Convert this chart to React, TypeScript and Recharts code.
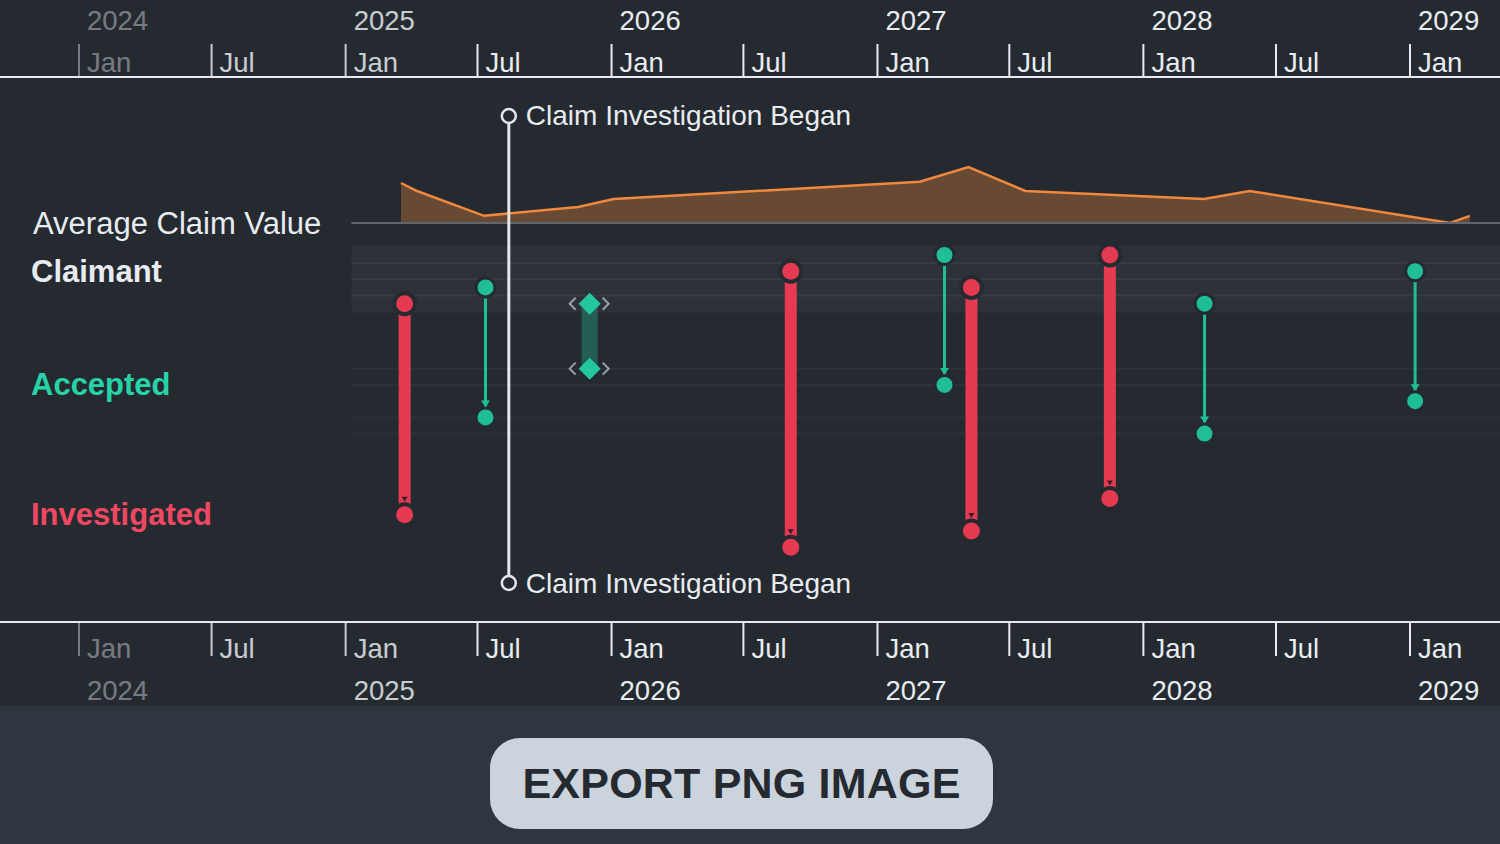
import React from "react";
import {
  ComposedChart,
  Area,
  Scatter,
  XAxis,
  YAxis,
  ReferenceLine,
  ReferenceArea,
} from "recharts";

const ts = (d: string) => Date.parse(d.length === 10 ? d + "T00:00:00Z" : d);

// visible time window and start of the data region
const DOMAIN_START = ts("2023-09-14T14:00:00Z");
const DOMAIN_END = ts("2029-05-04T12:00:00Z");
const DATA_START = ts("2025-01-09");

const tickDates = [
  "2024-01-01", "2024-07-01", "2025-01-01", "2025-07-01", "2026-01-01",
  "2026-07-01", "2027-01-01", "2027-07-01", "2028-01-01", "2028-07-01", "2029-01-01",
];
const monthNames = ["Jan", "Feb", "Mar", "Apr", "May", "Jun", "Jul", "Aug", "Sep", "Oct", "Nov", "Dec"];

// Average claim value ($k)
const avgDates = [
  "2025-03-18", "2025-04-09", "2025-07-10", "2025-11-16", "2026-01-04", "2027-02-28",
  "2027-05-06", "2027-07-23", "2028-03-24", "2028-05-26", "2029-02-25", "2029-03-24",
];
const avgValues = [10.0, 8.0, 1.8, 4.0, 6.0, 10.3, 14.0, 8.0, 6.0, 8.0, 0.0, 1.8];

// claims: claimant lane -> outcome lane
const claimDates = [
  "2025-03-23", "2025-07-12", "2025-12-02", "2026-09-04", "2027-04-03",
  "2027-05-10", "2027-11-16", "2028-03-25", "2029-01-08",
];
const claimantLanes = [3, 2, 3, 1, 0, 2, 0, 3, 1];
const outcomeLanes = [16, 10, 7, 18, 8, 17, 15, 11, 9];
const outcomes = [
  "Investigated", "Accepted", "Accepted", "Investigated", "Accepted",
  "Investigated", "Investigated", "Accepted", "Accepted",
];
const selectedClaim = 2;

const eventDate = "2025-08-13";
const eventLabel = "Claim Investigation Began";

const groupLanes = [1, 8, 16];
const groupLabels = ["Claimant", "Accepted", "Investigated"];
const bandSeparators = [0.5, 1.5, 2.5];
const outcomeGuides = [7, 8, 10, 11];

// lane / value scales placement
const LANE_DOMAIN: [number, number] = [-10.96, 22.6];
const VALUE_DOMAIN: [number, number] = [-99.75, 36.5];
const EVENT_LANES = [-8.56, 20.2];
const BAND_LANES = [-0.55, 3.55];

const BG = "#252a31";
const RED = "#e63a52";
const TEAL = "#1fbe96";
const ORANGE = "#f0883e";
const TEXT = "#e8ecf0";
const FONT = "'Liberation Sans', Arial, sans-serif";

const areaData = avgDates.map((d, i) => ({ t: ts(d), value: avgValues[i] }));
const claims = claimDates.map((d, i) => ({
  t: ts(d),
  from: claimantLanes[i],
  to: outcomeLanes[i],
  outcome: outcomes[i],
  selected: i === selectedClaim,
}));
const topMarks = claims.map((c) => ({ ...c, lane: c.from }));
const bottomMarks = claims.map((c) => ({ ...c, lane: c.to }));
const eventMarks = EVENT_LANES.map((l) => ({ t: ts(eventDate), lane: l }));

const colorOf = (o: string) => (o === "Investigated" ? RED : TEAL);

const tickOpacity = (v: number) => (v < ts("2024-06-01") ? 0.42 : v < DATA_START ? 0.84 : 1);

const TimeTick = ({ x, payload, side }: any) => {
  const d = new Date(payload.value);
  const jan = d.getUTCMonth() === 0;
  const op = tickOpacity(payload.value);
  const top = side === "top";
  const lineY = top ? [44, 76] : [623, 656];
  const monthY = top ? 62 : 648;
  const yearY = top ? 20 : 690;
  return (
    <g opacity={op}>
      <line x1={x} x2={x} y1={lineY[0]} y2={lineY[1]} stroke={TEXT} strokeWidth={2} />
      <text x={x + 8} y={monthY} fill={TEXT} fontSize={27.5} fontFamily={FONT} dominantBaseline="central">
        {monthNames[d.getUTCMonth()]}
      </text>
      {jan && (
        <text x={x + 8} y={yearY} fill={TEXT} fontSize={27.5} fontFamily={FONT} dominantBaseline="central">
          {d.getUTCFullYear()}
        </text>
      )}
    </g>
  );
};

const LaneTick = ({ y, payload }: any) => {
  const i = groupLanes.indexOf(payload.value);
  const fill = i === 1 ? "#27d3a6" : i === 2 ? "#f04862" : TEXT;
  return (
    <text x={31} y={y} fill={fill} fontSize={31} fontWeight="bold" fontFamily={FONT} dominantBaseline="central">
      {groupLabels[i]}
    </text>
  );
};

const ValueTick = ({ y }: any) => (
  <text x={33} y={y} fill={TEXT} fontSize={31} fontFamily={FONT} dominantBaseline="central">
    Average Claim Value
  </text>
);

const Diamond = ({ cx, cy }: { cx: number; cy: number }) => (
  <g>
    <polyline points={`${cx - 14},${cy - 6} ${cx - 20},${cy} ${cx - 14},${cy + 6}`} fill="none" stroke="#9aa1a8" strokeWidth={2} />
    <polyline points={`${cx + 13},${cy - 6} ${cx + 19},${cy} ${cx + 13},${cy + 6}`} fill="none" stroke="#9aa1a8" strokeWidth={2} />
    <polygon points={`${cx},${cy - 11} ${cx + 11},${cy} ${cx},${cy + 11} ${cx - 11},${cy}`} fill="#25c89e" />
  </g>
);

const Dot = ({ cx, cy, outcome }: any) =>
  outcome === "Investigated" ? (
    <circle cx={cx} cy={cy} r={10.5} fill={RED} stroke={BG} strokeWidth={4} />
  ) : (
    <circle cx={cx} cy={cy} r={9.5} fill={TEAL} stroke={BG} strokeWidth={3} />
  );

const TopMark = (p: any) => {
  const { cx, cy, payload } = p;
  if (payload.selected) return <Diamond cx={cx} cy={cy} />;
  return <Dot cx={cx} cy={cy} outcome={payload.outcome} />;
};

const BottomMark = (p: any) => {
  const { cx, cy, payload } = p;
  if (payload.selected) return <Diamond cx={cx} cy={cy} />;
  const red = payload.outcome === "Investigated";
  return (
    <g>
      {red ? (
        <polygon points={`${cx - 3},${cy - 18} ${cx + 3},${cy - 18} ${cx},${cy - 13}`} fill="#3a1e26" />
      ) : (
        <polygon points={`${cx - 4.5},${cy - 17} ${cx + 4.5},${cy - 17} ${cx},${cy - 10}`} fill={TEAL} />
      )}
      <Dot cx={cx} cy={cy} outcome={payload.outcome} />
    </g>
  );
};

const EventMark = (p: any) => {
  const { cx, cy } = p;
  return (
    <g>
      <circle cx={cx} cy={cy} r={7} fill={BG} stroke="#e3e7eb" strokeWidth={2.5} />
      <text x={cx + 17} y={cy} fill={TEXT} fontSize={28} fontFamily={FONT} dominantBaseline="central">
        {eventLabel}
      </text>
    </g>
  );
};

export default function App() {
  const ticks = tickDates.map(ts);
  return (
    <div style={{ position: "relative", width: 1500, height: 844, background: "#2f3640", fontFamily: FONT }}>
      <style>{"body{margin:0}"}</style>
      <div style={{ position: "absolute", left: 0, top: 0, width: 1500, height: 706, background: BG }}>
        <ComposedChart width={1500} height={706} data={areaData} margin={{ top: 0, right: 0, bottom: 0, left: -2 }}>
          <XAxis
            xAxisId="top"
            orientation="top"
            dataKey="t"
            type="number"
            domain={[DOMAIN_START, DOMAIN_END]}
            allowDataOverflow
            ticks={ticks}
            interval={0}
            height={77}
            tickLine={false}
            axisLine={{ stroke: "#e6eaee", strokeWidth: 2 }}
            tick={(props: any) => <TimeTick {...props} side="top" />}
          />
          <XAxis
            xAxisId="bottom"
            orientation="bottom"
            dataKey="t"
            type="number"
            domain={[DOMAIN_START, DOMAIN_END]}
            allowDataOverflow
            ticks={ticks}
            interval={0}
            height={84}
            tickLine={false}
            axisLine={{ stroke: "#e6eaee", strokeWidth: 2 }}
            tick={(props: any) => <TimeTick {...props} side="bottom" />}
          />
          <YAxis
            yAxisId="lane"
            dataKey="lane"
            type="number"
            reversed
            domain={LANE_DOMAIN}
            allowDataOverflow
            ticks={groupLanes}
            interval={0}
            width={1}
            axisLine={false}
            tickLine={false}
            tick={LaneTick}
          />
          <YAxis
            yAxisId="value"
            dataKey="value"
            type="number"
            domain={VALUE_DOMAIN}
            allowDataOverflow
            ticks={[0]}
            interval={0}
            width={1}
            axisLine={false}
            tickLine={false}
            tick={ValueTick}
          />

          <ReferenceArea
            xAxisId="top"
            yAxisId="lane"
            x1={DATA_START}
            x2={DOMAIN_END}
            y1={BAND_LANES[0]}
            y2={BAND_LANES[1]}
            fill="#2d3238"
            fillOpacity={1}
            stroke="none"
            ifOverflow="visible"
          />
          {bandSeparators.map((l) => (
            <ReferenceLine
              key={"s" + l}
              xAxisId="top"
              yAxisId="lane"
              segment={[{ x: DATA_START, y: l }, { x: DOMAIN_END, y: l }]}
              stroke="#363c43"
              strokeWidth={2}
            />
          ))}
          {outcomeGuides.map((l) => (
            <ReferenceLine
              key={"g" + l}
              xAxisId="top"
              yAxisId="lane"
              segment={[{ x: DATA_START, y: l }, { x: DOMAIN_END, y: l }]}
              stroke="#2d3238"
              strokeWidth={2}
            />
          ))}
          <ReferenceLine
            xAxisId="top"
            yAxisId="value"
            segment={[{ x: DATA_START, y: 0 }, { x: DOMAIN_END, y: 0 }]}
            stroke="#60666d"
            strokeWidth={2}
          />
          <Area
            xAxisId="top"
            yAxisId="value"
            dataKey="value"
            type="linear"
            baseValue={0}
            stroke={ORANGE}
            strokeWidth={2.5}
            fill={ORANGE}
            fillOpacity={0.33}
            dot={false}
            activeDot={false}
            isAnimationActive={false}
          />

          {claims.map((c, i) => (
            <ReferenceLine
              key={"c" + i}
              xAxisId="top"
              yAxisId="lane"
              segment={[{ x: c.t, y: c.from }, { x: c.t, y: c.to }]}
              stroke={c.selected ? TEAL : colorOf(c.outcome)}
              strokeOpacity={c.selected ? 0.35 : 1}
              strokeWidth={c.selected ? 16 : c.outcome === "Investigated" ? 12 : 3}
            />
          ))}

          <ReferenceLine
            xAxisId="top"
            yAxisId="lane"
            segment={[{ x: ts(eventDate), y: EVENT_LANES[0] }, { x: ts(eventDate), y: EVENT_LANES[1] }]}
            stroke="#e3e7eb"
            strokeWidth={3}
          />

          <Scatter xAxisId="top" yAxisId="lane" data={topMarks} shape={TopMark} isAnimationActive={false} />
          <Scatter xAxisId="top" yAxisId="lane" data={bottomMarks} shape={BottomMark} isAnimationActive={false} />
          <Scatter xAxisId="top" yAxisId="lane" data={eventMarks} shape={EventMark} isAnimationActive={false} />
        </ComposedChart>
      </div>
      <div
        style={{
          position: "absolute",
          left: 490,
          top: 738,
          width: 503,
          height: 91,
          borderRadius: 30,
          background: "#cbd3dd",
          color: BG,
          fontWeight: "bold",
          fontSize: 43,
          letterSpacing: 0.2,
          display: "flex",
          alignItems: "center",
          justifyContent: "center",
        }}
      >
        EXPORT PNG IMAGE
      </div>
    </div>
  );
}
